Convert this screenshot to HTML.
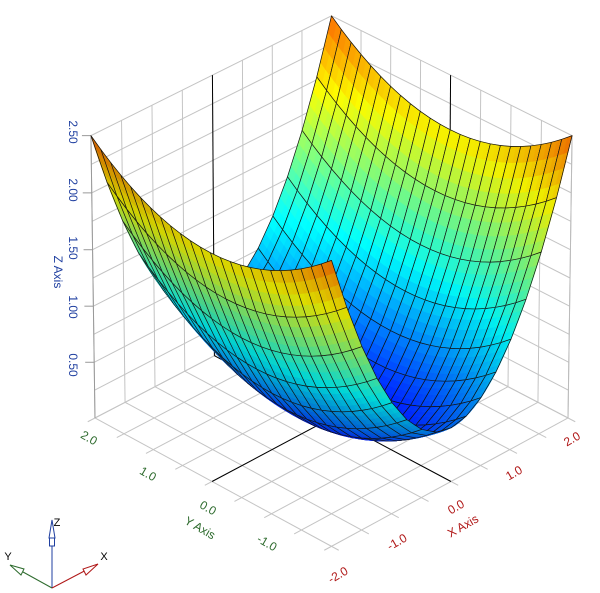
<!DOCTYPE html>
<html><head><meta charset="utf-8">
<style>
html,body{margin:0;padding:0;background:#fff;}
svg{display:block;}
text{font-family:"Liberation Sans",Arial,sans-serif;}
</style></head>
<body>
<svg id="s" width="600" height="593" viewBox="0 0 600 593" xmlns="http://www.w3.org/2000/svg">
<rect width="600" height="593" fill="#fff"/>
<g id="box"></g>
<g id="surf"></g>
<g id="labels">
  <g fill="#1f3fa0" font-size="12">
    <text transform="translate(73,132) rotate(90)" text-anchor="middle" dominant-baseline="central">2.50</text>
    <text transform="translate(73,190) rotate(90)" text-anchor="middle" dominant-baseline="central">2.00</text>
    <text transform="translate(73,248) rotate(90)" text-anchor="middle" dominant-baseline="central">1.50</text>
    <text transform="translate(73,307) rotate(90)" text-anchor="middle" dominant-baseline="central">1.00</text>
    <text transform="translate(73,365) rotate(90)" text-anchor="middle" dominant-baseline="central">0.50</text>
    <text transform="translate(58,272) rotate(90)" text-anchor="middle" dominant-baseline="central">Z Axis</text>
  </g>
  <g fill="#2e6b2e" font-size="12">
    <text transform="translate(89,438) rotate(30)" text-anchor="middle" dominant-baseline="central">2.0</text>
    <text transform="translate(148,474) rotate(30)" text-anchor="middle" dominant-baseline="central">1.0</text>
    <text transform="translate(208,508) rotate(30)" text-anchor="middle" dominant-baseline="central">0.0</text>
    <text transform="translate(267,543) rotate(30)" text-anchor="middle" dominant-baseline="central">-1.0</text>
    <text transform="translate(200,528) rotate(30)" text-anchor="middle" dominant-baseline="central">Y Axis</text>
  </g>
  <g fill="#b01818" font-size="12">
    <text transform="translate(572,439) rotate(-30)" text-anchor="middle" dominant-baseline="central">2.0</text>
    <text transform="translate(514,473) rotate(-30)" text-anchor="middle" dominant-baseline="central">1.0</text>
    <text transform="translate(456,507) rotate(-30)" text-anchor="middle" dominant-baseline="central">0.0</text>
    <text transform="translate(397,542) rotate(-30)" text-anchor="middle" dominant-baseline="central">-1.0</text>
    <text transform="translate(338,575) rotate(-30)" text-anchor="middle" dominant-baseline="central">-2.0</text>
    <text transform="translate(463,526) rotate(-30)" text-anchor="middle" dominant-baseline="central">X Axis</text>
  </g>
  <g>
    <line x1="52" y1="588" x2="52" y2="530" stroke="#1f3fa0" stroke-width="1"/>
    <polygon points="52,520 49,538 55,538" fill="#fff" stroke="#1f3fa0" stroke-width="1"/>
    <rect x="49.5" y="538" width="5" height="8" fill="#fff" stroke="#1f3fa0" stroke-width="1"/>
    <line x1="52" y1="588" x2="14" y2="567" stroke="#2e6b2e" stroke-width="1"/>
    <polygon points="10,565 24,569 21,575" fill="#fff" stroke="#2e6b2e" stroke-width="1"/>
    <line x1="52" y1="588" x2="92" y2="567" stroke="#b01818" stroke-width="1"/>
    <polygon points="98,564 83,569 86,575" fill="#fff" stroke="#b01818" stroke-width="1"/>
    <text x="57" y="526" font-size="11" fill="#000" text-anchor="middle">Z</text>
    <text x="8" y="560" font-size="11" fill="#000" text-anchor="middle">Y</text>
    <text x="104" y="560" font-size="11" fill="#000" text-anchor="middle">X</text>
  </g>
</g>
</svg>
<script>
(function(){
var NS="http://www.w3.org/2000/svg";
var se=0.52, ce=0.854, r2=Math.SQRT1_2, D=60, F=10120, Cx=331.5, Cy=278, H=1.96;
function P(u,v,Z){
  var sx=(u-v)*r2, sy=(u+v)*r2*se+Z*ce, d=D+(u+v)*r2*ce-Z*se;
  return [Cx+F*sx/d, Cy-F*sy/d, d];
}
function W(z){return (z/2.5-0.5)*H;}
var box=document.getElementById('box'), surf=document.getElementById('surf');
function line(g,a,b,col,w){
  var l=document.createElementNS(NS,'line');
  l.setAttribute('x1',a[0].toFixed(2));l.setAttribute('y1',a[1].toFixed(2));
  l.setAttribute('x2',b[0].toFixed(2));l.setAttribute('y2',b[1].toFixed(2));
  l.setAttribute('stroke',col);l.setAttribute('stroke-width',w||1);
  g.appendChild(l);
}
var gc="#c4c4c4", z0=W(0), z1=W(2.5);
for(var k=0;k<=8;k++){
  var t=-1+k*0.25;
  line(box,P(t,-1.06,z0),P(t,1,z0),gc);
  line(box,P(-1.06,t,z0),P(1,t,z0),gc);
}
for(var k=0;k<=8;k++){var t=-1+k*0.25; line(box,P(t,1,z0),P(t,1,z1),gc);}
for(var k=0;k<=10;k++){var z=W(k*0.25); line(box,P(-1,1,z),P(1,1,z),gc);}
for(var k=0;k<=8;k++){var t=-1+k*0.25; line(box,P(1,t,z0),P(1,t,z1),gc);}
for(var k=0;k<=10;k++){var z=W(k*0.25); line(box,P(1,-1,z),P(1,1,z),gc);}
line(box,P(-1,1,z0),P(-1,1,z1),"#999");
line(box,P(1,-1,z0),P(1,-1,z1),"#bbb");
for(var k=1;k<=5;k++){var p=P(-1,1,W(k*0.5)); line(box,[p[0]-9,p[1]],p,"#999");}
line(box,P(-1,0,z0),P(1,0,z0),"#000");
line(box,P(1,0,z0),P(1,0,z1),"#000");
line(box,P(0,-1,z0),P(0,1,z0),"#000");
line(box,P(0,1,z0),P(0,1,z1),"#000");
var NX=16, NY=24, SX=4, SY=2, quads=[];
var A=0.505, B=0.12;
function f(x,y){return A*x*x+B*y*y;}
function jet(t){
  function c(v){return Math.max(0,Math.min(1,v));}
  return [c(1.5-Math.abs(4*t-3)),c(1.5-Math.abs(4*t-2)),c(1.5-Math.abs(4*t-1))];
}
var L=[-0.35,-0.55,0.76]; var ln=Math.hypot(L[0],L[1],L[2]); L=L.map(function(a){return a/ln;});
function wp(x,y){var z=f(x,y);return [x/2,y/2,W(z),z];}
function poly(pts){return pts.map(function(p){return p[0].toFixed(2)+','+p[1].toFixed(2);}).join(' ');}
function shade(x0,x1,y0,y1){
  var c=[wp(x0,y0),wp(x1,y0),wp(x1,y1),wp(x0,y1)];
  var a=[c[2][0]-c[0][0],c[2][1]-c[0][1],c[2][2]-c[0][2]];
  var b=[c[3][0]-c[1][0],c[3][1]-c[1][1],c[3][2]-c[1][2]];
  var n=[a[1]*b[2]-a[2]*b[1],a[2]*b[0]-a[0]*b[2],a[0]*b[1]-a[1]*b[0]];
  var nl=Math.hypot(n[0],n[1],n[2]);
  var dot=Math.abs((n[0]*L[0]+n[1]*L[1]+n[2]*L[2])/nl);
  var br=0.82+0.25*dot; if(br>1.05)br=1.05;
  var z=(c[0][3]+c[1][3]+c[2][3]+c[3][3])/4;
  var col=jet(0.12+0.26*z).map(function(v){return Math.round(Math.min(255,v*255*br));});
  return 'rgb('+col.join(',')+')';
}
for(var i=0;i<NX;i++)for(var j=0;j<NY;j++){
  var x0=-2+4*i/NX,x1=-2+4*(i+1)/NX,y0=-2+4*j/NY,y1=-2+4*(j+1)/NY;
  var corners=[[x0,y0],[x1,y0],[x1,y1],[x0,y1]].map(function(q){var w=wp(q[0],q[1]);return P(w[0],w[1],w[2]);});
  var d=(corners[0][2]+corners[1][2]+corners[2][2]+corners[3][2])/4;
  var subs=[];
  for(var a=0;a<SX;a++)for(var b=0;b<SY;b++){
    var sx0=x0+(x1-x0)*a/SX,sx1=x0+(x1-x0)*(a+1)/SX,sy0=y0+(y1-y0)*b/SY,sy1=y0+(y1-y0)*(b+1)/SY;
    var pts=[[sx0,sy0],[sx1,sy0],[sx1,sy1],[sx0,sy1]].map(function(q){var w=wp(q[0],q[1]);return P(w[0],w[1],w[2]);});
    subs.push({pts:pts,col:shade(sx0,sx1,sy0,sy1)});
  }
  quads.push({d:d,corners:corners,subs:subs});
}
quads.sort(function(a,b){return b.d-a.d;});
quads.forEach(function(q){
  q.subs.forEach(function(s){
    var pg=document.createElementNS(NS,'polygon');
    pg.setAttribute('points',poly(s.pts));
    pg.setAttribute('fill',s.col);pg.setAttribute('stroke',s.col);pg.setAttribute('stroke-width','0.6');
    surf.appendChild(pg);
  });
  var pg=document.createElementNS(NS,'polygon');
  pg.setAttribute('points',poly(q.corners));
  pg.setAttribute('fill','none');pg.setAttribute('stroke','#111');pg.setAttribute('stroke-width','0.7');
  pg.setAttribute('stroke-linejoin','round');
  surf.appendChild(pg);
});
})();
</script>
</body></html>
